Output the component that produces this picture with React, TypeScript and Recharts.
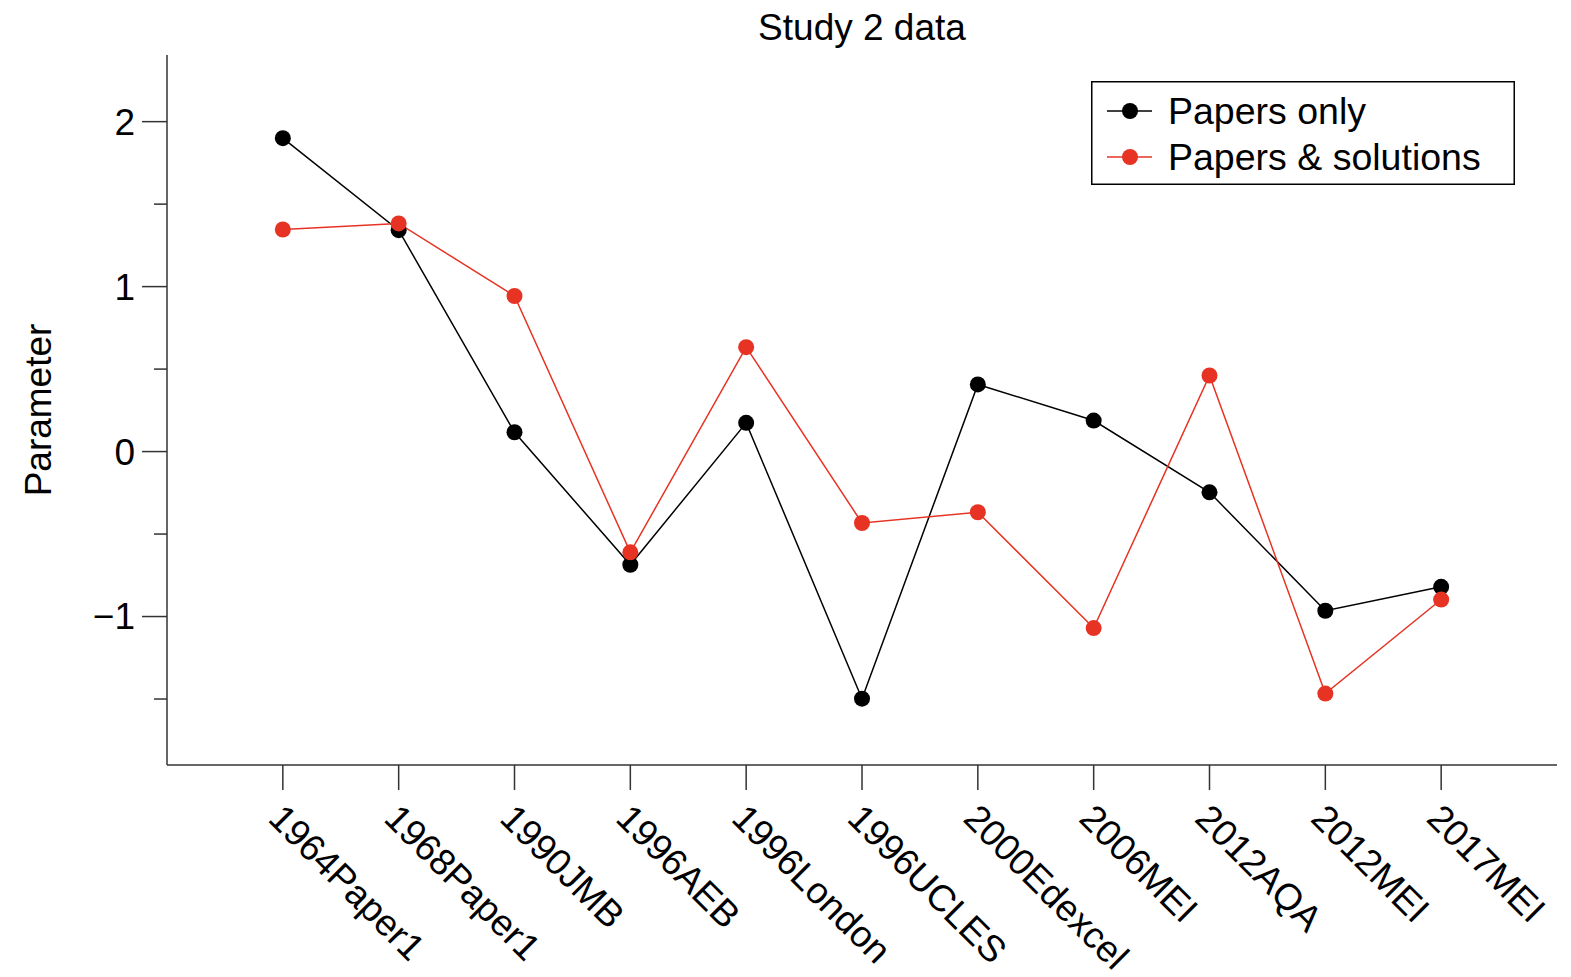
import { LineChart, Line, XAxis, YAxis } from "recharts";

const EXAMS = [
  "1964Paper1",
  "1968Paper1",
  "1990JMB",
  "1996AEB",
  "1996London",
  "1996UCLES",
  "2000Edexcel",
  "2006MEI",
  "2012AQA",
  "2012MEI",
  "2017MEI",
];

const PAPERS_ONLY = [1.9, 1.342, 0.117, -0.686, 0.174, -1.498, 0.407, 0.188, -0.247, -0.965, -0.82];
const PAPERS_SOLUTIONS = [1.346, 1.383, 0.943, -0.611, 0.633, -0.433, -0.368, -1.07, 0.461, -1.467, -0.897];

const Y_TICKS = [-1.5, -1, -0.5, 0, 0.5, 1, 1.5, 2];
const Y_LABELLED = [-1, 0, 1, 2];
const X_TICKS = EXAMS.map((_, i) => i);

const FONT = "'Liberation Sans', Arial, Helvetica, sans-serif";
const RED = "#e63323";
const AXIS = "#333";

const data = EXAMS.map((name, i) => ({
  idx: i,
  name,
  papers: PAPERS_ONLY[i],
  solutions: PAPERS_SOLUTIONS[i],
}));

const YTick = ({ x, y, payload }: any) => {
  const major = Y_LABELLED.includes(payload.value);
  const len = major ? 25 : 13;
  return (
    <g>
      <line x1={x - len} x2={x} y1={y} y2={y} stroke={AXIS} strokeWidth={1.5} />
      {major && (
        <text x={x - 32} y={y} dy="0.35em" textAnchor="end" fontSize={37} fontFamily={FONT} fill="#000">
          {payload.value < 0 ? "\u2212" + Math.abs(payload.value) : payload.value}
        </text>
      )}
    </g>
  );
};

const XTick = ({ x, y, payload }: any) => (
  <text
    transform={`translate(${x - 7}, ${y + 21}) rotate(45)`}
    dy="0.35em"
    textAnchor="start"
    fontSize={37}
    fontFamily={FONT}
    fill="#000"
  >
    {EXAMS[payload.value]}
  </text>
);

// legend drawn as an overlay so it doesn't eat into the plot area
const LegendBox = () => (
  <svg width={424} height={104} style={{ display: "block" }}>
    <rect x={0.75} y={0.75} width={422.5} height={102.5} fill="#fff" stroke="#000" strokeWidth={1.5} />
    <line x1={16} x2={61} y1={30} y2={30} stroke="#000" strokeWidth={1.5} />
    <circle cx={39} cy={30} r={8} fill="#000" />
    <text x={77} y={30} dy="0.35em" fontSize={37.5} fontFamily={FONT} fill="#000">
      Papers only
    </text>
    <line x1={16} x2={61} y1={76} y2={76} stroke={RED} strokeWidth={1.5} />
    <circle cx={39} cy={76} r={8} fill={RED} />
    <text x={77} y={76} dy="0.35em" fontSize={37.5} fontFamily={FONT} fill="#000">
      Papers &amp; solutions
    </text>
  </svg>
);

export default function App() {
  return (
    <div style={{ position: "absolute", left: 0, top: 0, width: 1571, height: 977, background: "#fff" }}>
      <div
        style={{
          position: "absolute",
          left: 662,
          width: 400,
          top: 9,
          textAlign: "center",
          fontFamily: FONT,
          fontSize: 37,
          lineHeight: "37px",
          color: "#000",
        }}
      >
        Study 2 data
      </div>
      <LineChart
        width={1571}
        height={977}
        data={data}
        margin={{ top: 55, right: 14, bottom: 0, left: 0 }}
      >
        <XAxis
          dataKey="idx"
          type="number"
          domain={[-1, 11]}
          ticks={X_TICKS}
          height={212}
          tickSize={25}
          tickMargin={0}
          tickLine={{ stroke: AXIS, strokeWidth: 1.5 }}
          axisLine={{ stroke: AXIS, strokeWidth: 1.5 }}
          tick={<XTick />}
          interval={0}
        />
        <YAxis
          type="number"
          domain={[-1.9, 2.404]}
          ticks={Y_TICKS}
          width={167}
          tickSize={0}
          tickMargin={0}
          tickLine={false}
          axisLine={{ stroke: AXIS, strokeWidth: 1.5 }}
          tick={<YTick />}
          interval={0}
          allowDataOverflow
          label={{
            content: () => (
              <text
                transform="translate(51, 410) rotate(-90)"
                textAnchor="middle"
                fontSize={37}
                fontFamily={FONT}
                fill="#000"
              >
                Parameter
              </text>
            ),
          }}
        />
        <Line
          dataKey="papers"
          stroke="#000"
          strokeWidth={1.5}
          dot={{ r: 8, fill: "#000", stroke: "none" }}
          activeDot={false}
          isAnimationActive={false}
        />
        <Line
          dataKey="solutions"
          stroke={RED}
          strokeWidth={1.5}
          dot={{ r: 8, fill: RED, stroke: "none" }}
          activeDot={false}
          isAnimationActive={false}
        />
      </LineChart>
      <div style={{ position: "absolute", left: 1091, top: 81 }}>
        <LegendBox />
      </div>
    </div>
  );
}
